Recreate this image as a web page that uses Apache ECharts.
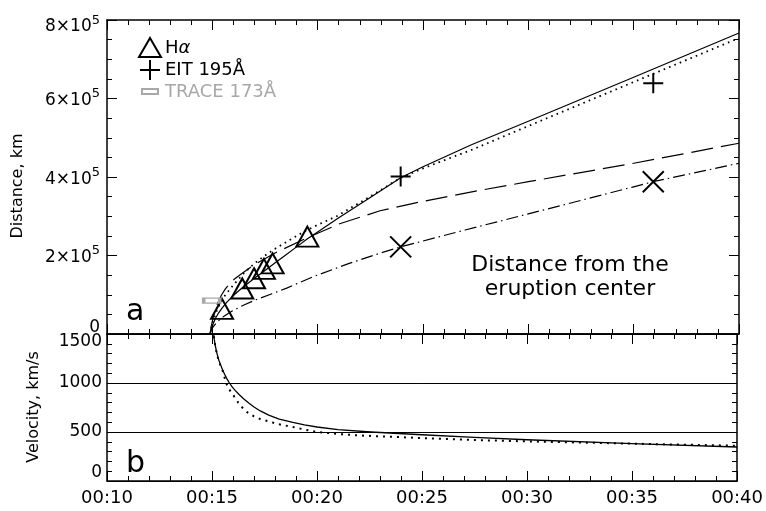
<!DOCTYPE html>
<html><head><meta charset="utf-8">
<script src="https://cdn.jsdelivr.net/npm/echarts@6/dist/echarts.min.js"></script>
<style>html,body{margin:0;padding:0;background:#fff}#c{width:766px;height:511px}</style>
</head><body><div id="c"></div>
<script>
// ---- tick labels ----
const timeLabels = ['00:10','00:15','00:20','00:25','00:30','00:35','00:40'];
const distMantissa = ['0','2','4','6','8'];
const distExponent = '5';
const velLabels = ['0','500','1000','1500'];

// ---- markers (time in minutes after 00:00, distance in km) ----
const haTime = [15.46, 16.42, 16.98, 17.45, 17.86, 19.51];
const haDist = [64000, 116000, 142000, 166000, 180000, 248000];
const eitTime = [23.94, 35.93];
const eitDist = [401000, 639000];
const crossTime = [23.94, 35.93];
const crossDist = [222000, 388000];
const traceTime = [14.97];
const traceDist = [85000];

// ---- distance curves (units of 1e5 km) ----
const solidT = [14.89,14.95,15.0,15.08,15.15,15.3,15.46,15.7,16.0,16.42,17.0,17.5,18.0,18.5,19.0,19.5,20.0,21.0,22.48,23.94,25.0,27.3,30.0,35.0,40.0];
const solidD = [0,0.1,0.2,0.31,0.4,0.54,0.66,0.82,0.98,1.18,1.42,1.62,1.82,2.02,2.22,2.42,2.6,2.96,3.47,3.98,4.26,4.82,5.42,6.54,7.67];
const dottedT = [14.89,14.95,15.05,15.15,15.3,15.45,15.6,15.8,16.0,16.5,17.0,17.5,18.0,18.5,19.0,19.5,20.0,20.9,22.48,23.94,25.0,27.3,30.0,35.0,40.0];
const dottedD = [0,0.15,0.35,0.52,0.7,0.85,0.98,1.12,1.25,1.55,1.8,2.0,2.18,2.34,2.5,2.65,2.78,3.0,3.5,3.98,4.22,4.69,5.3,6.42,7.54];
const dashedT = [14.89,14.95,15.05,15.2,15.44,15.62,15.82,16.05,16.37,17.0,18.0,19.5,21.0,22.96,25.0,27.5,30.0,35.0,40.0];
const dashedD = [0,0.2,0.45,0.72,1.0,1.15,1.28,1.4,1.53,1.77,2.07,2.45,2.8,3.14,3.38,3.64,3.88,4.35,4.86];
const dashDotT = [14.89,14.95,15.05,15.25,15.5,15.92,16.5,17.1,17.8,18.53,19.79,21.5,22.96,23.94,27.0,30.0,35.0,35.93,40.0];
const dashDotD = [0,0.1,0.19,0.32,0.43,0.58,0.74,0.88,1.02,1.17,1.46,1.8,2.06,2.22,2.65,3.06,3.75,3.88,4.35];

// ---- velocity curves (km/s) ----
const vSolidT = [15.06,15.08,15.11,15.15,15.2,15.25,15.33,15.42,15.5,15.6,15.72,15.83,15.96,16.1,16.3,16.53,16.75,17.0,17.3,17.7,18.2,18.85,19.4,20.0,21.0,22.57,25.0,27.5,30.0,35.0,40.0];
const vSolidV = [1600,1500,1440,1390,1335,1290,1230,1180,1135,1090,1040,1000,960,925,880,835,795,755,715,672,632,598,572,551,525,500,472,445,421,381,347];
const vDotT = [15.06,15.08,15.1,15.15,15.2,15.3,15.4,15.49,15.58,15.67,15.8,16.0,16.25,16.53,16.75,17.0,17.3,17.7,18.2,18.85,19.4,20.0,21.0,22.0,25.0,27.5,30.0,35.0,40.0];
const vDotV = [1620,1520,1450,1385,1330,1240,1180,1136,1070,1000,940,880,800,727,690,660,632,608,578,551,525,500,480,465,438,418,404,381,360];

const zip = (a, b, k) => a.map((t, i) => [t, b[i] * (k || 1)]);
const FONT = 'DejaVu Sans';
const black = '#000';
const gray = '#a8a8a8';

function axisCommon(extra) {
  return Object.assign({
    type: 'value',
    axisLine: { show: true, onZero: false, lineStyle: { color: black, width: 1.5 } },
    axisTick: { show: true, inside: true, length: 10, lineStyle: { color: black, width: 1 } },
    minorTick: { show: true, splitNumber: 5, length: 5, lineStyle: { color: black, width: 1 } },
    axisLabel: { show: false },
    splitLine: { show: false }
  }, extra);
}

const xAxes = [
  axisCommon({ gridIndex: 0, min: 10, max: 40, interval: 5, position: 'bottom' }),
  axisCommon({ gridIndex: 0, min: 10, max: 40, interval: 5, position: 'top' }),
  axisCommon({ gridIndex: 1, min: 10, max: 40, interval: 5, position: 'bottom',
    axisLabel: { show: true, fontFamily: FONT, fontSize: 18, color: black, margin: 8,
      formatter: v => timeLabels[Math.round((v - 10) / 5)] } }),
  axisCommon({ gridIndex: 1, min: 10, max: 40, interval: 5, position: 'top' })
];

const yAxes = [
  axisCommon({ gridIndex: 0, min: 0, max: 800000, interval: 200000, position: 'left',
    minorTick: { show: true, splitNumber: 4, length: 5, lineStyle: { color: black } },
    axisLabel: { show: true, margin: 7, color: black, fontFamily: FONT,
      formatter: v => {
        const m = distMantissa[Math.round(v / 200000)];
        if (v === 0) return '{b|' + m + '}';
        if (v === 800000) return '{nT|' + m + '×10}{sT|' + distExponent + '}';
        return '{n|' + m + '×10}{s|' + distExponent + '}';
      },
      rich: {
        n: { fontSize: 17, fontFamily: FONT, color: black, padding: [5, 0, 0, 0], verticalAlign: 'top' },
        s: { fontSize: 13, fontFamily: FONT, color: black, verticalAlign: 'top' },
        nT: { fontSize: 17, fontFamily: FONT, color: black, padding: [14, 0, 0, 0], verticalAlign: 'top' },
        sT: { fontSize: 13, fontFamily: FONT, color: black, padding: [10, 0, 0, 0], verticalAlign: 'top' },
        b: { fontSize: 17, fontFamily: FONT, color: black, padding: [0, 0, 12, 0] }
      } } }),
  axisCommon({ gridIndex: 0, min: 0, max: 800000, interval: 200000, position: 'right',
    minorTick: { show: true, splitNumber: 4, length: 5, lineStyle: { color: black } } }),
  axisCommon({ gridIndex: 1, min: 0, max: 1500, interval: 500, position: 'left',
    splitLine: { show: true, lineStyle: { color: black, width: 1 } },
    axisLabel: { show: true, margin: 5, color: black, fontFamily: FONT,
      formatter: v => {
        const t = velLabels[Math.round(v / 500)];
        if (v === 0) return '{b|' + t + '}';
        if (v === 1500) return '{t|' + t + '}';
        return '{m|' + t + '}';
      },
      rich: {
        m: { fontSize: 17, fontFamily: FONT, color: black },
        b: { fontSize: 17, fontFamily: FONT, color: black, padding: [0, 0, 16, 0] },
        t: { fontSize: 17, fontFamily: FONT, color: black, padding: [16, 0, 0, 0] }
      } } }),
  axisCommon({ gridIndex: 1, min: 0, max: 1500, interval: 500, position: 'right' })
];

function curve(t, d, k, xi, yi, type, width) {
  return { type: 'line', xAxisIndex: xi, yAxisIndex: yi, data: zip(t, d, k),
    showSymbol: false, symbol: 'none', smooth: false, clip: true, silent: true,
    lineStyle: { color: black, width: width, type: type, cap: 'butt', join: 'round' }, z: 3 };
}
function marks(t, d, symbol, size, color, bw) {
  return { type: 'scatter', xAxisIndex: 0, yAxisIndex: 0, data: zip(t, d),
    symbol: symbol, symbolSize: size, silent: true, z: 5,
    itemStyle: { color: 'none', borderColor: color, borderWidth: bw, opacity: 1 } };
}

const series = [
  curve(solidT, solidD, 1e5, 0, 0, 'solid', 1.2),
  curve(dottedT, dottedD, 1e5, 0, 0, [1.6, 4.2], 1.8),
  curve(dashedT, dashedD, 1e5, 0, 0, [22, 8], 1.2),
  curve(dashDotT, dashDotD, 1e5, 0, 0, [12, 4, 1.5, 4], 1.2),
  curve(vSolidT, vSolidV, 1, 2, 2, 'solid', 1.3),
  curve(vDotT, vDotV, 1, 2, 2, [2, 5], 2),
  marks(haTime, haDist, 'triangle', [22, 20], black, 2),
  marks(eitTime, eitDist, 'path://M0,10L20,10M10,0L10,20', 20, black, 2),
  marks(crossTime, crossDist, 'path://M0,0L20,20M20,0L0,20', 21, black, 2),
  marks(traceTime, traceDist, 'rect', [16, 5], gray, 2)
];

const txt = (x, y, text, size, extra) => ({
  type: 'text', x: x, y: y, z: 10, silent: true,
  style: Object.assign({ text: text, font: size + 'px "' + FONT + '"', fill: black,
    textAlign: 'left', textVerticalAlign: 'middle', align: 'left', verticalAlign: 'middle' }, extra || {})
});

const graphic = [
  // legend
  { type: 'polygon', z: 10, silent: true, shape: { points: [[139, 57], [161, 57], [150, 38]] },
    style: { fill: 'none', stroke: black, lineWidth: 2 } },
  { type: 'line', z: 10, silent: true, shape: { x1: 140, y1: 70, x2: 160, y2: 70 }, style: { stroke: black, lineWidth: 2 } },
  { type: 'line', z: 10, silent: true, shape: { x1: 150, y1: 60, x2: 150, y2: 80 }, style: { stroke: black, lineWidth: 2 } },
  { type: 'rect', z: 10, silent: true, shape: { x: 142, y: 89, width: 16, height: 5 },
    style: { fill: 'none', stroke: gray, lineWidth: 2 } },
  txt(165, 48, '{r|H}{g|α}', 18),
  txt(165, 70, 'EIT 195Å', 18),
  txt(165, 92, 'TRACE 173Å', 18, { fill: gray }),
  // panel letters
  txt(126, 312, 'a', 30),
  txt(126, 464, 'b', 30),
  // annotation
  txt(570, 277, 'Distance from the\neruption center', 22, { textAlign: 'center', align: 'center', lineHeight: 24 }),
  // axis titles
  txt(18, 186, 'Distance, km', 16, { textAlign: 'center', align: 'center' }),
  txt(34, 407, 'Velocity, km/s', 16, { textAlign: 'center', align: 'center' })
];
graphic[4].style.rich = {
  r: { font: '18px "' + FONT + '"', fill: black },
  g: { font: 'italic 18px "' + FONT + '"', fill: black }
};
graphic[10].rotation = Math.PI / 2;
graphic[11].rotation = Math.PI / 2;

const chart = echarts.init(document.getElementById('c'), null, { renderer: 'canvas' });
chart.setOption({
  animation: false,
  backgroundColor: '#fff',
  textStyle: { fontFamily: FONT },
  grid: [
    { left: 107, right: 27, top: 20, height: 314 },
    { left: 107, right: 27, top: 334, height: 147 }
  ],
  xAxis: xAxes,
  yAxis: yAxes,
  series: series,
  graphic: graphic
});
</script></body></html>
